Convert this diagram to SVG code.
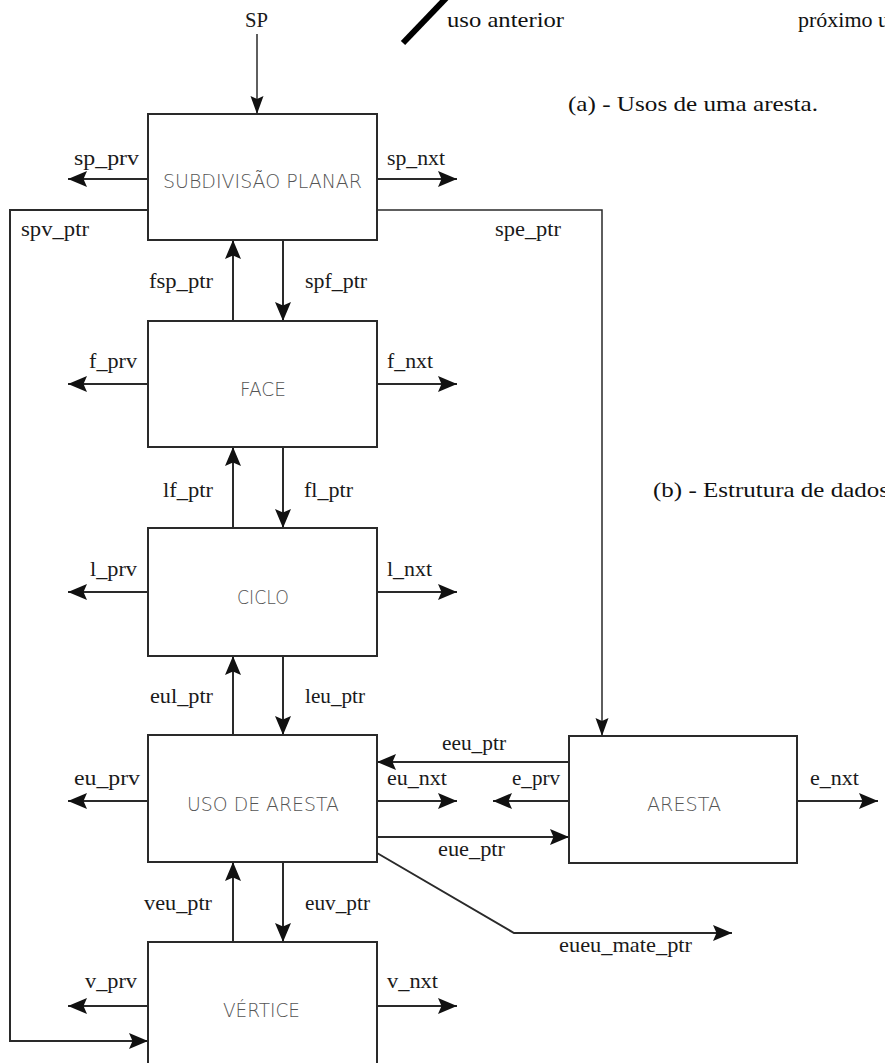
<svg xmlns="http://www.w3.org/2000/svg" width="885" height="1063" viewBox="0 0 885 1063">
  <style>
    .box { fill: #ffffff; stroke: #2a2a2a; stroke-width: 2; }
    .name { font-family: "DejaVu Sans", "Liberation Sans", sans-serif; font-weight: 200; font-size: 19px; fill: #555555; }
    .lbl { font-family: "Liberation Serif", "Times New Roman", serif; font-size: 21px; fill: #1a1a1a; }
    .cap { font-family: "Liberation Serif", "Times New Roman", serif; font-size: 22px; fill: #111111; }
    .wire { fill: none; stroke: #2a2a2a; stroke-width: 2; }
    .thin { fill: none; stroke: #2a2a2a; stroke-width: 1.5; }
  </style>
  <defs>
    <marker id="head" markerUnits="userSpaceOnUse" markerWidth="21" markerHeight="18" refX="19" refY="8.5" orient="auto">
      <path d="M0,0.5 L19,8.5 L0,16.5 L3.5,8.5 Z" fill="#111111"/>
    </marker>
    <marker id="headThin" markerUnits="userSpaceOnUse" markerWidth="20" markerHeight="16" refX="18" refY="7.5" orient="auto">
      <path d="M0,1 L18,7.5 L0,14 L3,7.5 Z" fill="#111111"/>
    </marker>
  </defs>

  <rect width="885" height="1063" fill="#ffffff"/>

  <!-- legend of edge uses -->
  <g id="legend">
    <line x1="403" y1="43" x2="450" y2="-6" stroke="#000000" stroke-width="6"/>
    <text class="cap" x="447" y="27" font-size="23" textLength="117" lengthAdjust="spacingAndGlyphs">uso anterior</text>
    <text class="cap" x="798" y="27" font-size="21">próximo uso</text>
    <text class="cap" x="568" y="111" textLength="250" lengthAdjust="spacingAndGlyphs">(a) - Usos de uma aresta.</text>
    <text class="cap" x="653" y="497" textLength="236" lengthAdjust="spacingAndGlyphs">(b) - Estrutura de dados</text>
  </g>

  <!-- connectors -->
  <g id="connectors">
    <line class="thin" x1="257" y1="34" x2="257" y2="114" marker-end="url(#headThin)"/>
    <line class="wire" x1="148" y1="179" x2="68" y2="179" marker-end="url(#head)"/>
    <line class="wire" x1="377" y1="179" x2="457" y2="179" marker-end="url(#head)"/>
    <path class="wire" d="M148,210 H10 V1041 H148" marker-end="url(#head)"/>
    <path class="thin" d="M377,210 H602 V736" marker-end="url(#headThin)"/>
    <line class="wire" x1="233" y1="321" x2="233" y2="240" marker-end="url(#head)"/>
    <line class="wire" x1="283" y1="240" x2="283" y2="321" marker-end="url(#head)"/>
    <line class="wire" x1="148" y1="384" x2="68" y2="384" marker-end="url(#head)"/>
    <line class="wire" x1="377" y1="384" x2="457" y2="384" marker-end="url(#head)"/>
    <line class="wire" x1="233" y1="528" x2="233" y2="447" marker-end="url(#head)"/>
    <line class="wire" x1="283" y1="447" x2="283" y2="528" marker-end="url(#head)"/>
    <line class="wire" x1="148" y1="592" x2="68" y2="592" marker-end="url(#head)"/>
    <line class="wire" x1="377" y1="592" x2="457" y2="592" marker-end="url(#head)"/>
    <line class="wire" x1="233" y1="735" x2="233" y2="656" marker-end="url(#head)"/>
    <line class="wire" x1="283" y1="656" x2="283" y2="735" marker-end="url(#head)"/>
    <line class="wire" x1="148" y1="801" x2="68" y2="801" marker-end="url(#head)"/>
    <line class="wire" x1="377" y1="801" x2="457" y2="801" marker-end="url(#head)"/>
    <line class="wire" x1="569" y1="762" x2="377" y2="762" marker-end="url(#head)"/>
    <line class="wire" x1="572" y1="801" x2="493" y2="801" marker-end="url(#head)"/>
    <line class="wire" x1="377" y1="837" x2="569" y2="837" marker-end="url(#head)"/>
    <line class="wire" x1="797" y1="801" x2="878" y2="801" marker-end="url(#head)"/>
    <path class="wire" d="M377,853 L514,933 H732" marker-end="url(#head)"/>
    <line class="wire" x1="233" y1="942" x2="233" y2="862" marker-end="url(#head)"/>
    <line class="wire" x1="283" y1="862" x2="283" y2="942" marker-end="url(#head)"/>
    <line class="wire" x1="148" y1="1006" x2="68" y2="1006" marker-end="url(#head)"/>
    <line class="wire" x1="377" y1="1006" x2="457" y2="1006" marker-end="url(#head)"/>

    <text class="lbl" x="245" y="27" font-size="18" textLength="23" lengthAdjust="spacingAndGlyphs">SP</text>
    <text class="lbl" x="74" y="165" textLength="65" lengthAdjust="spacingAndGlyphs">sp_prv</text>
    <text class="lbl" x="387" y="165" textLength="58" lengthAdjust="spacingAndGlyphs">sp_nxt</text>
    <text class="lbl" x="21" y="236" textLength="68" lengthAdjust="spacingAndGlyphs">spv_ptr</text>
    <text class="lbl" x="495" y="236" textLength="66" lengthAdjust="spacingAndGlyphs">spe_ptr</text>
    <text class="lbl" x="149" y="288" textLength="64" lengthAdjust="spacingAndGlyphs">fsp_ptr</text>
    <text class="lbl" x="305" y="288" textLength="62" lengthAdjust="spacingAndGlyphs">spf_ptr</text>
    <text class="lbl" x="89" y="368" textLength="48" lengthAdjust="spacingAndGlyphs">f_prv</text>
    <text class="lbl" x="387" y="368" textLength="46" lengthAdjust="spacingAndGlyphs">f_nxt</text>
    <text class="lbl" x="163" y="497" textLength="50" lengthAdjust="spacingAndGlyphs">lf_ptr</text>
    <text class="lbl" x="304" y="497" textLength="49" lengthAdjust="spacingAndGlyphs">fl_ptr</text>
    <text class="lbl" x="90" y="576" textLength="47" lengthAdjust="spacingAndGlyphs">l_prv</text>
    <text class="lbl" x="387" y="576" textLength="45" lengthAdjust="spacingAndGlyphs">l_nxt</text>
    <text class="lbl" x="150" y="703" textLength="63" lengthAdjust="spacingAndGlyphs">eul_ptr</text>
    <text class="lbl" x="305" y="703" textLength="60" lengthAdjust="spacingAndGlyphs">leu_ptr</text>
    <text class="lbl" x="442" y="750" textLength="64" lengthAdjust="spacingAndGlyphs">eeu_ptr</text>
    <text class="lbl" x="74" y="785" textLength="66" lengthAdjust="spacingAndGlyphs">eu_prv</text>
    <text class="lbl" x="387" y="785" textLength="60" lengthAdjust="spacingAndGlyphs">eu_nxt</text>
    <text class="lbl" x="512" y="785" textLength="48" lengthAdjust="spacingAndGlyphs">e_prv</text>
    <text class="lbl" x="810" y="785" textLength="49" lengthAdjust="spacingAndGlyphs">e_nxt</text>
    <text class="lbl" x="438" y="856" textLength="67" lengthAdjust="spacingAndGlyphs">eue_ptr</text>
    <text class="lbl" x="559" y="952" textLength="133" lengthAdjust="spacingAndGlyphs">eueu_mate_ptr</text>
    <text class="lbl" x="144" y="910" textLength="68" lengthAdjust="spacingAndGlyphs">veu_ptr</text>
    <text class="lbl" x="305" y="910" textLength="65" lengthAdjust="spacingAndGlyphs">euv_ptr</text>
    <text class="lbl" x="85" y="988" textLength="52" lengthAdjust="spacingAndGlyphs">v_prv</text>
    <text class="lbl" x="387" y="988" textLength="51" lengthAdjust="spacingAndGlyphs">v_nxt</text>
  </g>

  <!-- record nodes -->
  <g id="subdivisao-planar">
    <rect class="box" x="148" y="114" width="229" height="126"/>
    <text class="name" x="163" y="188" textLength="199" lengthAdjust="spacingAndGlyphs">SUBDIVISÃO PLANAR</text>
  </g>
  <g id="face">
    <rect class="box" x="148" y="321" width="229" height="126"/>
    <text class="name" x="240" y="396" textLength="46" lengthAdjust="spacingAndGlyphs">FACE</text>
  </g>
  <g id="ciclo">
    <rect class="box" x="148" y="528" width="229" height="128"/>
    <text class="name" x="237" y="604" textLength="52" lengthAdjust="spacingAndGlyphs">CICLO</text>
  </g>
  <g id="uso-de-aresta">
    <rect class="box" x="148" y="735" width="229" height="127"/>
    <text class="name" x="187" y="811" textLength="152" lengthAdjust="spacingAndGlyphs">USO DE ARESTA</text>
  </g>
  <g id="vertice">
    <rect class="box" x="148" y="942" width="229" height="130"/>
    <text class="name" x="223" y="1017" textLength="77" lengthAdjust="spacingAndGlyphs">VÉRTICE</text>
  </g>
  <g id="aresta">
    <rect class="box" x="569" y="736" width="228" height="127"/>
    <text class="name" x="647" y="811" textLength="74" lengthAdjust="spacingAndGlyphs">ARESTA</text>
  </g>
</svg>
